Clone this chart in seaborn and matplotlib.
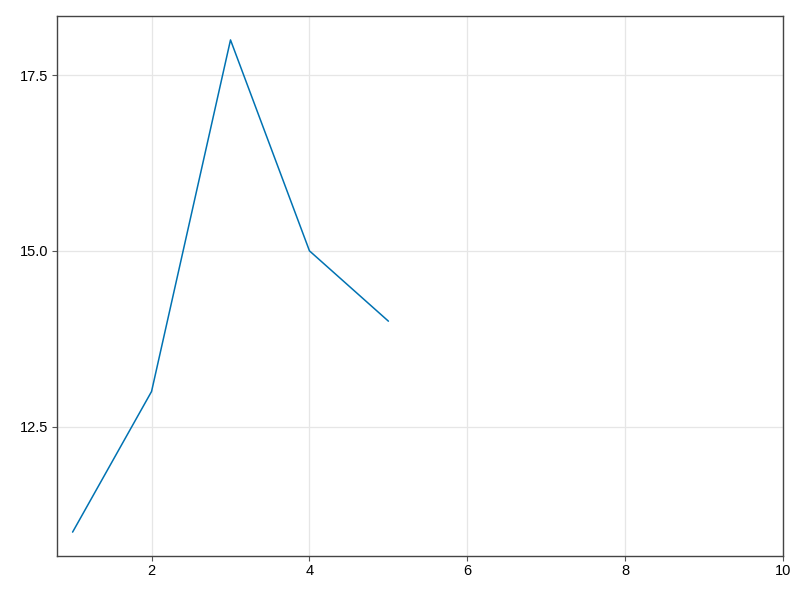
import matplotlib
matplotlib.use("Agg")
import matplotlib.pyplot as plt
import pandas as pd
import seaborn as sns

x_values = [1, 2, 3, 4, 5]
y_values = [11, 13, 18, 15, 14]
x_ticks = [2, 4, 6, 8, 10]
y_ticks = [12.5, 15.0, 17.5]

sns.set_theme(style="white")
plt.rcParams["font.family"] = ["Liberation Sans", "DejaVu Sans"]

df = pd.DataFrame({"x": x_values, "y": y_values})

fig = plt.figure(figsize=(8, 6), dpi=100)
ax = fig.add_axes([0.071, 0.0733, 0.908, 0.9])

sns.lineplot(data=df, x="x", y="y", ax=ax, color="#0072b2", linewidth=1.1)

ax.set_xlim(0.8, 10.0)
ax.set_ylim(10.66, 18.34)
ax.set_xticks(x_ticks)
ax.set_xticklabels([str(t) for t in x_ticks])
ax.set_yticks(y_ticks)
ax.set_yticklabels([f"{t:.1f}" for t in y_ticks])
ax.set_xlabel("")
ax.set_ylabel("")
ax.grid(True, color="#e6e6e6", linewidth=0.9)
ax.tick_params(direction="out", length=3.5, width=0.8, color="#555555",
               labelsize=10.5, labelcolor="#000000", pad=2.5,
               bottom=True, left=True)
for spine in ax.spines.values():
    spine.set_color("#444444")
    spine.set_linewidth(1.0)

fig.savefig("out.png", dpi=100)
